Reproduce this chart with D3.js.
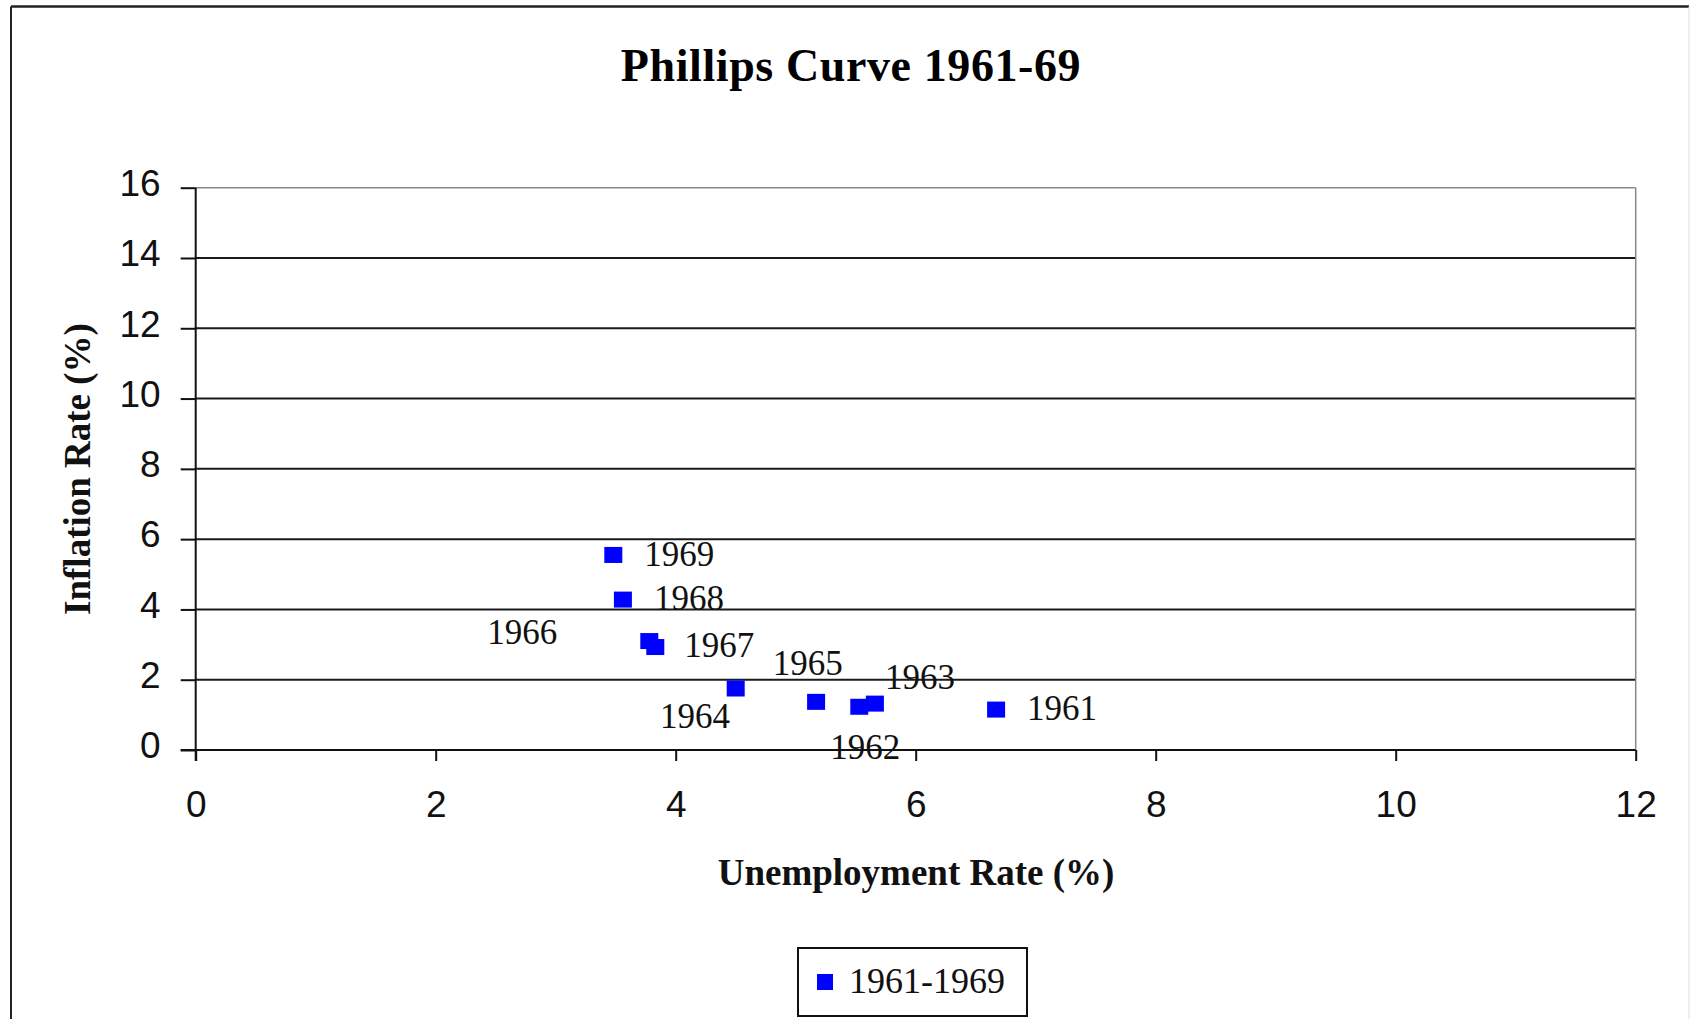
<!DOCTYPE html>
<html>
<head>
<meta charset="utf-8">
<script src="https://cdn.jsdelivr.net/npm/d3@7"></script>
<style>
  html, body { margin: 0; padding: 0; background: #fff; }
  svg { display: block; }
</style>
</head>
<body>
<svg id="chart" width="1690" height="1019"></svg>
<script>
// ---- data ----
const years = ["1961", "1962", "1963", "1964", "1965", "1966", "1967", "1968", "1969"];
const unemployment = [6.67, 5.53, 5.66, 5.17, 4.50, 3.78, 3.83, 3.56, 3.48];
const inflation = [1.15, 1.23, 1.32, 1.37, 1.75, 3.10, 2.93, 4.28, 5.55];
const xTicks = [0, 2, 4, 6, 8, 10, 12];
const yTicks = [0, 2, 4, 6, 8, 10, 12, 14, 16];
const seriesName = "1961-1969";
const titleText = "Phillips Curve 1961-69";
const xTitle = "Unemployment Rate (%)";
const yTitle = "Inflation Rate (%)";

// ---- layout (label placement relative to point, px) ----
const labelOffsets = {
  "1961": [31, 10], "1962": [-29, 52], "1963": [10, -15], "1964": [-156, 26],
  "1965": [37, -13], "1966": [-162, 3], "1967": [29, 10], "1968": [31, 10], "1969": [31, 11]
};

const svg = d3.select("#chart");
const serif = "'Liberation Serif', 'Times New Roman', serif";
const sans = "'Liberation Sans', Arial, sans-serif";

// outer frame
svg.append("line").attr("x1", 11).attr("y1", 6.5).attr("x2", 1689).attr("y2", 6.5)
  .attr("stroke", "#222").attr("stroke-width", 2.5);
svg.append("line").attr("x1", 11).attr("y1", 6.5).attr("x2", 11).attr("y2", 1019)
  .attr("stroke", "#222").attr("stroke-width", 2);
svg.append("line").attr("x1", 1689).attr("y1", 6.5).attr("x2", 1689).attr("y2", 1019)
  .attr("stroke", "#ddd").attr("stroke-width", 1);

const pLeft = 195.7, pRight = 1635.7, pTop = 187.7, pBottom = 750;
const x = d3.scaleLinear().domain([0, 12]).range([pLeft, pRight]);
const y = d3.scaleLinear().domain([0, 16]).range([pBottom, pTop]);

// gridlines
svg.append("g").selectAll("line").data(yTicks.filter(d => d > 0 && d < 16)).join("line")
  .attr("x1", pLeft).attr("x2", pRight)
  .attr("y1", d => y(d)).attr("y2", d => y(d))
  .attr("stroke", "#1a1a1a").attr("stroke-width", 2);
// plot border top/right
svg.append("line").attr("x1", pLeft).attr("x2", pRight).attr("y1", y(16)).attr("y2", y(16))
  .attr("stroke", "#888").attr("stroke-width", 1.5);
svg.append("line").attr("x1", pRight).attr("x2", pRight).attr("y1", y(16)).attr("y2", y(0))
  .attr("stroke", "#888").attr("stroke-width", 1.5);

// y axis
const yAxis = d3.axisLeft(y).tickValues(yTicks).tickSize(15).tickPadding(20).tickFormat(d3.format("d"));
const gy = svg.append("g").attr("transform", `translate(${pLeft},0)`).call(yAxis);
gy.select(".domain").attr("stroke", "#111").attr("stroke-width", 2)
  .attr("d", `M0,${y(16)}V${pBottom + 11}`);
gy.selectAll(".tick line").attr("stroke", "#111").attr("stroke-width", 2);
gy.selectAll(".tick text").attr("font-family", sans).attr("font-size", 37)
  .attr("fill", "#111").attr("dy", "0.32em").attr("y", -4);

// x axis
const xAxis = d3.axisBottom(x).tickValues(xTicks).tickSize(11).tickPadding(30).tickFormat(d3.format("d"));
const gx = svg.append("g").attr("transform", `translate(0,${pBottom})`).call(xAxis);
gx.select(".domain").attr("stroke", "#111").attr("stroke-width", 2)
  .attr("d", `M${pLeft - 15},0H${pRight}`);
gx.selectAll(".tick line").attr("stroke", "#111").attr("stroke-width", 2);
gx.selectAll(".tick text").attr("font-family", sans).attr("font-size", 37)
  .attr("fill", "#111").attr("dy", "0.71em").attr("y", 41);

// points
const pts = years.map((yr, i) => ({ yr, u: unemployment[i], inf: inflation[i] }));
const mw = 18, mh = 16;
svg.append("g").selectAll("rect").data(pts).join("rect")
  .attr("x", d => x(d.u) - mw / 2).attr("y", d => y(d.inf) - mh / 2)
  .attr("width", mw).attr("height", mh).attr("fill", "#0000ff");

// data labels
svg.append("g").selectAll("text").data(pts).join("text")
  .attr("x", d => x(d.u) + labelOffsets[d.yr][0])
  .attr("y", d => y(d.inf) + labelOffsets[d.yr][1])
  .attr("font-family", serif).attr("font-size", 35).attr("fill", "#111")
  .text(d => d.yr);

// title
svg.append("text").attr("x", 851).attr("y", 81).attr("text-anchor", "middle")
  .attr("font-family", serif).attr("font-weight", "bold").attr("font-size", 46)
  .attr("letter-spacing", 0.6).attr("fill", "#000").text(titleText);

// axis titles
svg.append("text").attr("x", 916).attr("y", 885).attr("text-anchor", "middle")
  .attr("font-family", serif).attr("font-weight", "bold").attr("font-size", 37)
  .attr("fill", "#111").text(xTitle);
svg.append("text").attr("transform", "translate(90,469) rotate(-90)").attr("text-anchor", "middle")
  .attr("font-family", serif).attr("font-weight", "bold").attr("font-size", 37)
  .attr("fill", "#111").text(yTitle);

// legend
const lg = svg.append("g");
lg.append("rect").attr("x", 798).attr("y", 948).attr("width", 229).attr("height", 68)
  .attr("fill", "#fff").attr("stroke", "#111").attr("stroke-width", 2);
lg.append("rect").attr("x", 817).attr("y", 974).attr("width", 16).attr("height", 16).attr("fill", "#0000ff");
lg.append("text").attr("x", 849).attr("y", 993).attr("font-family", serif).attr("font-size", 36)
  .attr("fill", "#111").text(seriesName);
</script>
</body>
</html>
